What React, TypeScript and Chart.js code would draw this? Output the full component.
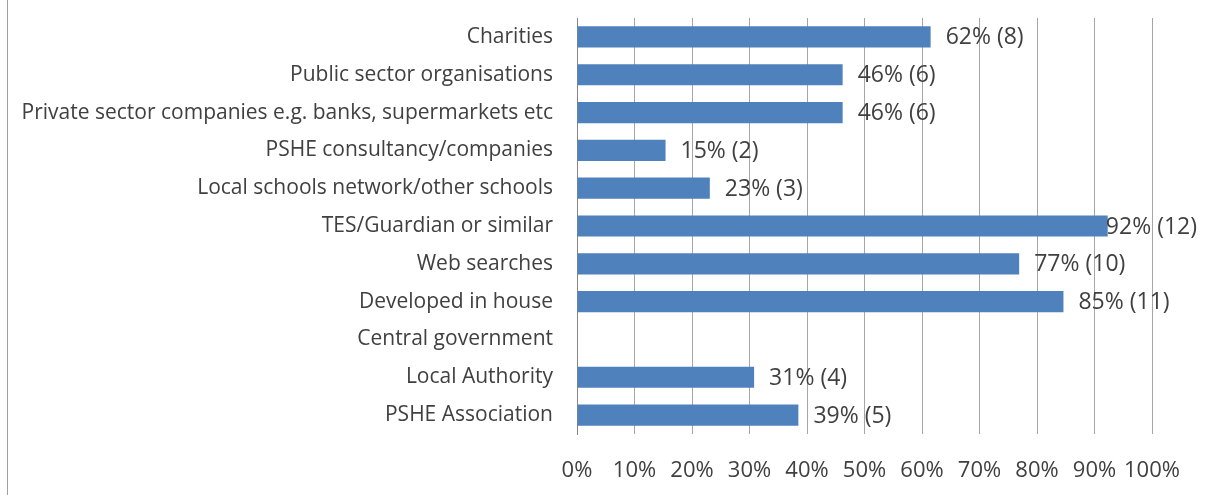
import React, { useEffect, useRef } from "react";
import { Chart, registerables } from "chart.js";

Chart.register(...registerables);

const categories = [
  "Charities",
  "Public sector organisations",
  "Private sector companies e.g. banks, supermarkets etc",
  "PSHE consultancy/companies",
  "Local schools network/other schools",
  "TES/Guardian or similar",
  "Web searches",
  "Developed in house",
  "Central government",
  "Local Authority",
  "PSHE Association",
];

const percentValues = [61.5, 46.2, 46.2, 15.4, 23.1, 92.3, 76.9, 84.6, 0, 30.8, 38.5];
const counts = [8, 6, 6, 2, 3, 12, 10, 11, 0, 4, 5];
const xTickValues = [0, 10, 20, 30, 40, 50, 60, 70, 80, 90, 100];

const FONT = "'Open Sans', Lato, sans-serif";
const TEXT = "#404040";

const valueLabelPlugin = {
  id: "valueLabels",
  afterDatasetsDraw(chart: any) {
    const ctx = chart.ctx;
    const meta = chart.getDatasetMeta(0);
    ctx.save();
    ctx.font = `23px ${FONT}`;
    ctx.fillStyle = TEXT;
    ctx.textBaseline = "middle";
    ctx.textAlign = "left";
    meta.data.forEach((bar: any, i: number) => {
      const v = percentValues[i];
      if (!v) return;
      const text = `${Math.round(v)}% (${counts[i]})`;
      const w = ctx.measureText(text).width;
      let x = bar.x + 15;
      const maxRight = chart.width - 10;
      if (x + w > maxRight) x = maxRight - w;
      ctx.fillText(text, x, bar.y + 1);
    });
    ctx.restore();
  },
};

export default function App() {
  const ref = useRef<HTMLCanvasElement>(null);
  useEffect(() => {
    if (!ref.current) return;
    const chart = new Chart(ref.current, {
      type: "bar",
      data: {
        labels: categories,
        datasets: [
          {
            data: percentValues,
            backgroundColor: "#4F81BD",
            borderWidth: 0,
            barPercentage: 0.56,
            categoryPercentage: 1,
          },
        ],
      },
      options: {
        indexAxis: "y",
        animation: false,
        responsive: false,
        maintainAspectRatio: false,
        layout: { padding: { top: 18, left: 0, right: 55, bottom: 0 } },
        plugins: {
          legend: { display: false },
          tooltip: { enabled: false },
        },
        scales: {
          x: {
            min: 0,
            max: 100,
            afterBuildTicks(scale: any) {
              scale.ticks = xTickValues.map((v) => ({ value: v }));
            },
            afterFit(scale: any) {
              scale.height = 61;
              scale.paddingLeft = 0;
              scale.paddingRight = 0;
            },
            ticks: {
              callback: (v: any) => `${v}%`,
              font: { family: FONT, size: 22 },
              color: TEXT,
              padding: 24,
              maxRotation: 0,
              autoSkip: false,
            },
            grid: { color: "#A6A6A6", drawTicks: false, lineWidth: 1 },
            border: { display: false },
          },
          y: {
            afterFit(scale: any) {
              scale.width = 577;
              scale.paddingTop = 0;
              scale.paddingBottom = 0;
            },
            ticks: {
              font: { family: FONT, size: 21 },
              color: TEXT,
              padding: 24,
              autoSkip: false,
            },
            grid: { display: false, drawTicks: false },
            border: { display: true, color: "#868686", width: 1 },
          },
        },
      },
      plugins: [valueLabelPlugin],
    });
    return () => chart.destroy();
  }, []);

  return (
    <div style={{ position: "fixed", left: 0, top: 0, width: 1207, height: 495, background: "#fff" }}>
      <div style={{ position: "absolute", left: 7, top: 0, width: 1, height: 495, background: "#A0A0A0" }} />
      <canvas ref={ref} width={1207} height={495} style={{ position: "absolute", left: 0, top: 0 }} />
    </div>
  );
}
